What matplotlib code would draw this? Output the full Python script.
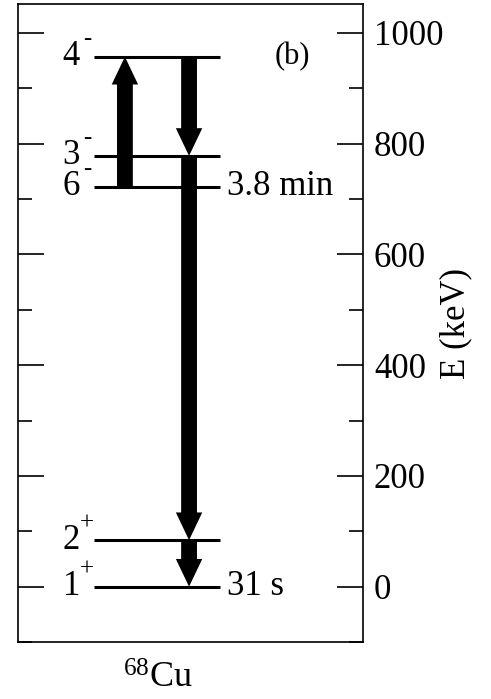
import matplotlib
matplotlib.use('Agg')
import matplotlib.pyplot as plt
from matplotlib.patches import FancyArrowPatch
from matplotlib.ticker import MultipleLocator

plt.rcParams['font.family'] = 'Liberation Serif'
plt.rcParams['mathtext.fontset'] = 'custom'
plt.rcParams['mathtext.rm'] = 'Liberation Serif'

# 68Cu level energies (keV) and spin/parity
energies = [0, 84, 722, 778, 957]
spins = ['1', '2', '6', '3', '4']
parities = ['+', '+', '-', '-', '-']
half_lives = {0: '31 s', 722: '3.8 min'}

# transitions: (x position, start level, end level)
arrow_x = [0.31, 0.496, 0.496, 0.496]
arrow_from = [722, 957, 778, 84]
arrow_to = [957, 778, 84, 0]

fig = plt.figure(figsize=(4.91, 6.99), dpi=100)
ax = fig.add_axes([0.0367, 0.0815, 0.7023, 0.9125])
ax.set_xlim(0, 1)
ax.set_ylim(-100, 1052)

x0, x1 = 0.22, 0.586
for e, s, p in zip(energies, spins, parities):
    ax.plot([x0, x1], [e, e], color='black', lw=2.2, solid_capstyle='butt')
    ax.annotate(s, (x0, e), xytext=(-10, 0), textcoords='offset points',
                ha='right', va='center', fontsize=25)
    dy = 12 if p == '+' else 13
    ax.annotate(p, (x0, e), xytext=(-5, dy), textcoords='offset points',
                ha='center', va='center', fontsize=18)
    if e in half_lives:
        ax.text(x1 + 0.02, e, half_lives[e], ha='left', va='center', fontsize=25)

for xa, a, b in zip(arrow_x, arrow_from, arrow_to):
    arr = FancyArrowPatch((xa, a), (xa, b),
                          arrowstyle='simple,head_width=1.0,head_length=1.05,tail_width=0.6',
                          mutation_scale=19, color='black', lw=0,
                          shrinkA=0, shrinkB=0)
    ax.add_patch(arr)

ax.text(0.797, 957, '(b)', ha='center', va='center', fontsize=22)

ax.set_xticks([])
ax.yaxis.set_major_locator(MultipleLocator(200))
ax.yaxis.set_minor_locator(MultipleLocator(100))
ax.tick_params(axis='y', which='both', direction='in', left=True, right=True,
               labelleft=False, labelright=True, labelsize=25, width=1.2, pad=8)
ax.tick_params(axis='y', which='major', length=19)
ax.tick_params(axis='y', which='minor', length=10)
for sp in ax.spines.values():
    sp.set_linewidth(1.2)

ax.yaxis.set_label_position('right')
ax.set_ylabel('E (keV)', fontsize=25, labelpad=-3)

fig.text(0.322, 0.028, r'$\mathregular{^{68}Cu}$', ha='center', va='center', fontsize=26)

fig.savefig('out.png', dpi=100)
